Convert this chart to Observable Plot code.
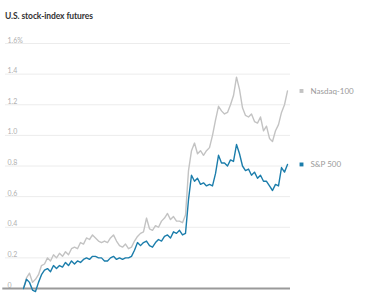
<!DOCTYPE html>
<html>
<head>
<meta charset="utf-8">
<script src="https://cdn.jsdelivr.net/npm/d3@7"></script>
<script src="https://cdn.jsdelivr.net/npm/@observablehq/plot@0.6"></script>
<style>
  body { margin: 0; background: #fff; font-family: Lato, "Open Sans", sans-serif; }
  #title { height: 26px; box-sizing: border-box; padding: 11px 0 0 5px; font-size: 8.5px; line-height: 10px; font-weight: 700; color: #333; letter-spacing: -0.1px; }
  #chart svg { display: block; }
</style>
</head>
<body>
<div id="title">U.S. stock-index futures</div>
<div id="chart"></div>
<script>
const seriesNames = ["Nasdaq-100", "S&P 500"];
const nasdaq = [0.0,0.07,0.10,0.04,0.06,0.09,0.15,0.16,0.20,0.18,0.22,0.20,0.23,0.21,0.24,0.22,0.26,0.27,0.26,0.30,0.29,0.33,0.32,0.35,0.33,0.31,0.30,0.31,0.30,0.33,0.35,0.31,0.28,0.27,0.29,0.26,0.27,0.31,0.34,0.36,0.37,0.46,0.39,0.38,0.41,0.40,0.44,0.46,0.49,0.45,0.47,0.44,0.44,0.43,0.48,0.77,0.90,0.95,0.88,0.90,0.87,0.90,0.92,1.00,1.10,1.19,1.16,1.14,1.15,1.20,1.26,1.38,1.30,1.18,1.13,1.12,1.14,1.09,1.08,1.12,1.03,1.06,0.98,0.96,1.03,1.07,1.15,1.20,1.29];
const sp500 = [0.0,0.06,0.04,-0.01,-0.02,0.04,0.09,0.12,0.13,0.11,0.15,0.13,0.15,0.14,0.17,0.15,0.18,0.16,0.18,0.17,0.19,0.20,0.19,0.21,0.21,0.20,0.20,0.18,0.18,0.20,0.21,0.19,0.20,0.19,0.20,0.20,0.21,0.25,0.30,0.28,0.30,0.31,0.28,0.27,0.30,0.32,0.31,0.34,0.35,0.33,0.37,0.36,0.38,0.35,0.36,0.58,0.74,0.70,0.72,0.68,0.69,0.67,0.68,0.67,0.75,0.87,0.82,0.82,0.80,0.84,0.83,0.94,0.88,0.80,0.77,0.78,0.74,0.76,0.72,0.74,0.70,0.70,0.67,0.64,0.68,0.67,0.79,0.76,0.81];
const yTicks = [0, 0.2, 0.4, 0.6, 0.8, 1.0, 1.2, 1.4, 1.6];
const yTickLabels = ["0", "0.2", "0.4", "0.6", "0.8", "1.0", "1.2", "1.4", "1.6%"];
const colors = ["#c3c3c3", "#1b7dab"];

const rows = [];
[nasdaq, sp500].forEach((arr, s) => arr.forEach((v, i) => rows.push({series: seriesNames[s], i, v})));
const last = seriesNames.map((name, s) => {
  const arr = [nasdaq, sp500][s];
  return {series: name, i: arr.length - 1, v: arr[arr.length - 1]};
});
const ticks = yTicks.map((t, k) => ({t, label: yTickLabels[k]}));

const plot = Plot.plot({
  width: 379,
  height: 273,
  marginTop: 17,
  marginBottom: 11,
  marginLeft: 5,
  marginRight: 89,
  x: {domain: [-6, 89], axis: null},
  y: {domain: [0, 1.6], axis: null},
  color: {domain: seriesNames, range: colors},
  style: {fontFamily: "Lato, 'Open Sans', sans-serif", background: "#fff"},
  marks: [
    Plot.ruleY(yTicks.filter(d => d > 0), {stroke: "#ececec", strokeWidth: 1}),
    Plot.text(ticks, {y: "t", text: "label", frameAnchor: "left", dx: 2, dy: -1, lineAnchor: "bottom", textAnchor: "start", fontSize: 7, fill: "#b0b0b0"}),
    Plot.ruleY([0], {stroke: "#9a9a9a", strokeWidth: 2, x1: -6.9, x2: 89}),
    Plot.line(rows, {x: "i", y: "v", z: "series", stroke: "series", strokeWidth: 1.4, curve: "linear"}),
    Plot.dot(last, {x: "i", y: "v", fill: "series", symbol: "square", r: 2.2, dx: 14}),
    Plot.text(last, {x: "i", y: "v", text: "series", dx: 23, textAnchor: "start", fontSize: 8, fill: "#9a9a9a"})
  ]
});
document.getElementById("chart").appendChild(plot);
</script>
</body>
</html>
